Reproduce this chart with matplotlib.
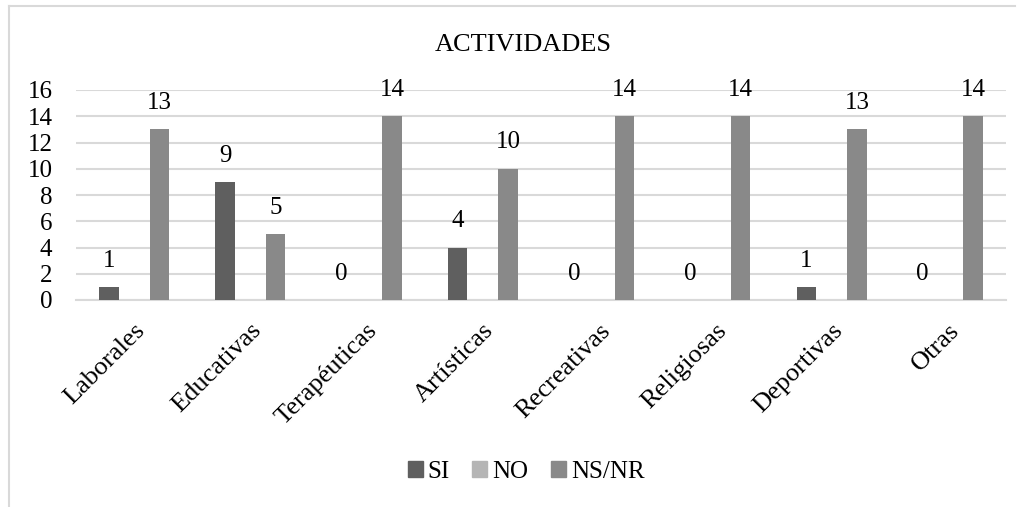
import matplotlib
matplotlib.use('Agg')
import matplotlib.pyplot as plt
from matplotlib.lines import Line2D
import numpy as np

categories = ['Laborales', 'Educativas', 'Terapéuticas', 'Artísticas',
              'Recreativas', 'Religiosas', 'Deportivas', 'Otras']
si = [1, 9, 0, 4, 0, 0, 1, 0]
no = [None] * 8  # serie sin datos
ns_nr = [13, 5, 14, 10, 14, 14, 13, 14]
series_names = ['SI', 'NO', 'NS/NR']
y_ticks = [0, 2, 4, 6, 8, 10, 12, 14, 16]

colors = ['#5f5f5f', '#b5b5b5', '#898989']
grid_color = '#d9d9d9'

plt.rcParams['font.family'] = ['Liberation Serif', 'DejaVu Serif']
W, H = 1024, 507
fig = plt.figure(figsize=(W / 100, H / 100), dpi=100)

# plot area in pixels
left, right, top, bottom = 76, 1006, 90, 300
ax = fig.add_axes([left / W, 1 - bottom / H, (right - left) / W, (bottom - top) / H])

x = np.arange(len(categories))
width = 0.168
offset = 0.218
for i, (vals, name) in enumerate(zip([si, no, ns_nr], series_names)):
	heights = [v if v is not None else 0 for v in vals]
	bars = ax.bar(x + (i - 1) * offset, heights, width, color=colors[i], label=name, zorder=3)
	for b, v in zip(bars, vals):
		if v is None:
			continue
		ax.annotate(str(v), (b.get_x() + b.get_width() / 2, v), xytext=(0, 11),
			textcoords='offset points', ha='center', va='bottom', fontsize=18)

ax.set_xlim(-0.5, len(categories) - 0.5)
ax.set_ylim(0, 16)
ax.set_yticks(y_ticks)
ax.set_yticklabels([str(t) for t in y_ticks], fontsize=18)
ax.yaxis.grid(True, color=grid_color, linewidth=1.5, zorder=0)
ax.set_xticks(x)
ax.set_xticklabels(categories, rotation=45, ha='right', va='top', rotation_mode='anchor', fontsize=19)
ax.tick_params(axis='both', length=0)
ax.tick_params(axis='y', pad=17)
ax.tick_params(axis='x', pad=14)
for s in ['top', 'right', 'left']:
	ax.spines[s].set_visible(False)
ax.spines['bottom'].set_color(grid_color)
ax.spines['bottom'].set_linewidth(1.5)

fig.text(523 / W, 1 - 45 / H, 'ACTIVIDADES', ha='center', va='center', fontsize=19)

handles = [plt.Rectangle((0, 0), 1, 1, color=c) for c in colors]
fig.legend(handles, series_names, loc='center', bbox_to_anchor=(526 / W, 1 - 472 / H),
	ncol=3, frameon=False, fontsize=18, handlelength=0.6, handleheight=0.6,
	handletextpad=0.2, columnspacing=0.9)

# chart frame
fig.add_artist(Line2D([8.5 / W, 8.5 / W], [0, 1 - 5.5 / H], color=grid_color, linewidth=1.5))
fig.add_artist(Line2D([8.5 / W, 1015 / W], [1 - 5.5 / H, 1 - 5.5 / H], color=grid_color, linewidth=1.5))

fig.savefig('out.png', dpi=100)
